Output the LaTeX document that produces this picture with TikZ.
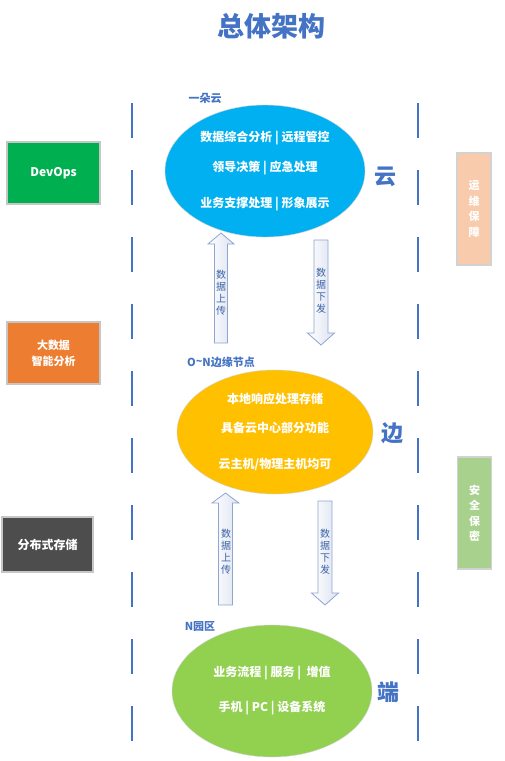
\documentclass[tikz,border=0pt]{standalone}
\usepackage{fontspec}
\setmainfont{Noto Sans CJK SC}
\usetikzlibrary{shapes.geometric}

\definecolor{titleblue}{HTML}{4472C4}
\definecolor{cloudblue}{HTML}{00B0F0}
\definecolor{edgeyellow}{HTML}{FFC000}
\definecolor{endgreen}{HTML}{92D050}
\definecolor{devgreen}{HTML}{00B050}
\definecolor{dataorange}{HTML}{ED7D31}
\definecolor{storegray}{HTML}{4D4D4D}
\definecolor{opspeach}{HTML}{F8CBAD}
\definecolor{safegreen}{HTML}{A9D18E}
\definecolor{arrowline}{HTML}{8FA5D2}
\definecolor{arrowfill}{HTML}{DCE2F0}

\begin{document}
\begin{tikzpicture}[x=1pt, y=-1pt,
  layer/.style={ellipse, draw=gray!35, minimum width=200pt, minimum height=132pt,
    text=white, align=center, font=\bfseries\fontsize{12}{14}\selectfont},
  sidebox/.style={draw=gray!45, line width=1.2pt, text=white, align=center,
    font=\bfseries\fontsize{12}{16}\selectfont},
  sidebar/.style={draw=gray!35, line width=1.2pt, text=white, align=center,
    minimum width=34pt, minimum height=112pt, font=\bfseries\fontsize{11}{15.5}\selectfont},
  tag/.style={text=titleblue, font=\bfseries\fontsize{11}{13}\selectfont},
  tier/.style={text=titleblue, font=\bfseries\fontsize{22}{24}\selectfont},
  flowtext/.style={text=titleblue!85!black, align=center, font=\fontsize{10}{12}\selectfont},
  blockarrow/.style={draw=arrowline, line width=0.8pt, left color=white, right color=arrowfill},
  sepline/.style={titleblue, line width=1.6pt, dash pattern=on 35pt off 32pt}]
  \useasboundingbox (0,0) rectangle (504,761);

  \node[text=titleblue, font=\bfseries\fontsize{27}{30}\selectfont] (title) at (271,26) {总体架构};

  % separators
  \draw[sepline] (132,103) -- (132,748);
  \draw[sepline] (418,103) -- (418,748);

  % three tiers
  \node[layer, fill=cloudblue, minimum width=200pt, minimum height=132pt] (cloud) at (265,171)
    {数据综合分析 | 远程管控\\[16pt]领导决策 | 应急处理\\[22pt]业务支撑处理 | 形象展示};
  \node[layer, fill=edgeyellow, minimum width=196pt, minimum height=124pt] (edge) at (275,432)
    {本地响应处理存储\\[15pt]具备云中心部分功能\\[22pt]云主机/物理主机均可};
  \node[layer, fill=endgreen, minimum width=200pt, minimum height=132pt] (term) at (272,691)
    {业务流程 | 服务 |\ \ 增值\\[21pt]手机 | PC | 设备系统};

  \node[tag] (cloudtag) at (205,98) {一朵云};
  \node[tag] (edgetag) at (221,362) {O\raisebox{1pt}{\textasciitilde}N边缘节点};
  \node[tag] (termtag) at (200,627) {N园区};

  \node[tier] (cloudname) at (385,177) {云};
  \node[tier] (edgename) at (392,433) {边};
  \node[tier] (termname) at (388,692) {端};

  % data flow between tiers
  \shadedraw[blockarrow] (214.5,343) -- (214.5,244) -- (208,244) -- (221,233)
    -- (234,244) -- (227.5,244) -- (227.5,343) -- cycle;
  \shadedraw[blockarrow] (314,240) -- (328,240) -- (328,333) -- (334.5,333)
    -- (321,345) -- (307.5,333) -- (314,333) -- cycle;
  \shadedraw[blockarrow] (218.5,605) -- (218.5,503) -- (212,503) -- (225.5,493)
    -- (239,503) -- (232.5,503) -- (232.5,605) -- cycle;
  \shadedraw[blockarrow] (318,501) -- (332,501) -- (332,593) -- (338.5,593)
    -- (325,605) -- (311.5,593) -- (318,593) -- cycle;

  \node[flowtext] (up1) at (221,293) {数\\据\\上\\传};
  \node[flowtext] (down1) at (321,291) {数\\据\\下\\发};
  \node[flowtext] (up2) at (226,552) {数\\据\\上\\传};
  \node[flowtext] (down2) at (325,552) {数\\据\\下\\发};

  % left side
  \node[sidebox, fill=devgreen, minimum width=93pt, minimum height=62pt] (devops) at (53.5,173) {DevOps};
  \node[sidebox, fill=dataorange, minimum width=93pt, minimum height=62pt,
    font=\bfseries\fontsize{11}{16}\selectfont] (bigdata) at (53.5,353) {大数据\\智能分析};
  \node[sidebox, fill=storegray, minimum width=91pt, minimum height=55pt] (storage) at (47.5,544.5) {分布式存储};

  % right side
  \node[sidebar, fill=opspeach] (ops) at (474,209) {运\\维\\保\\障};
  \node[sidebar, fill=safegreen] (safe) at (474.5,513) {安\\全\\保\\密};
\end{tikzpicture}
\end{document}
